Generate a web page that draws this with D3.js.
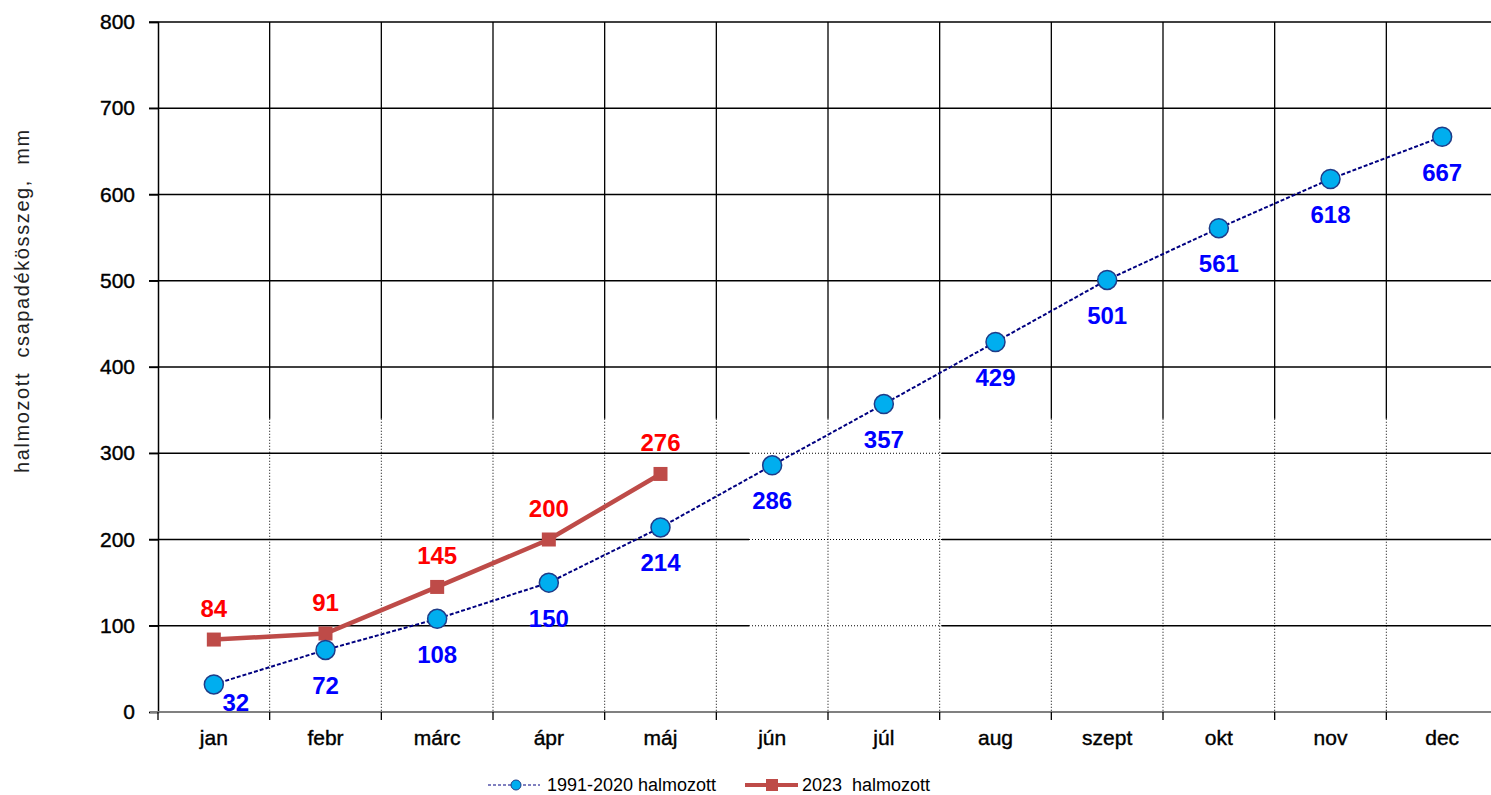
<!DOCTYPE html>
<html>
<head>
<meta charset="utf-8">
<script src="https://cdn.jsdelivr.net/npm/d3@7"></script>
<style>
  html, body { margin: 0; padding: 0; background: #fff; overflow: hidden; }
  text { font-family: "Liberation Sans", Arial, sans-serif; }
</style>
</head>
<body>
<svg id="chart" width="1491" height="795"></svg>
<script>
const months = ['jan', 'febr', 'márc', 'ápr', 'máj', 'jún', 'júl', 'aug', 'szept', 'okt', 'nov', 'dec']
const normalValues = [32, 72, 108, 150, 214, 286, 357, 429, 501, 561, 618, 667]
const values2023 = [84, 91, 145, 200, 276]
const yTicks = [0, 100, 200, 300, 400, 500, 600, 700, 800]
const seriesNames = ['1991-2020 halmozott', '2023  halmozott']

const svg = d3.select('#chart')

const x = d3.scaleBand()
    .domain(months)
    .range([158, 1498])
    .padding(0)

const y = d3.scaleLinear()
    .domain([0, 800])
    .range([712, 22])

const cx = m => x(m) + x.bandwidth() / 2

// grid: vertical lines, solid above, dotted in lower part
const splitY = y(340)
const grid = svg.append('g')
months.forEach((m, i) => {
    if (i === 0) return
    grid.append('line')
        .attr('x1', x(m)).attr('x2', x(m))
        .attr('y1', y(800)).attr('y2', splitY)
        .attr('stroke', '#000').attr('stroke-width', 1.3)
    grid.append('line')
        .attr('x1', x(m)).attr('x2', x(m))
        .attr('y1', splitY).attr('y2', y(0))
        .attr('stroke', '#000').attr('stroke-width', 1).attr('stroke-dasharray', '1,2')
})

// horizontal gridlines
const dotStart = 749, dotEnd = 942
yTicks.filter(t => t > 0).forEach(t => {
    if (t <= 300) {
        grid.append('line')
            .attr('x1', 149).attr('x2', dotStart)
            .attr('y1', y(t)).attr('y2', y(t))
            .attr('stroke', '#000').attr('stroke-width', 1.3)
        grid.append('line')
            .attr('x1', dotStart).attr('x2', dotEnd)
            .attr('y1', y(t)).attr('y2', y(t))
            .attr('stroke', '#000').attr('stroke-width', 1).attr('stroke-dasharray', '1,2')
        grid.append('line')
            .attr('x1', dotEnd).attr('x2', 1491)
            .attr('y1', y(t)).attr('y2', y(t))
            .attr('stroke', '#000').attr('stroke-width', 1.3)
    } else {
        grid.append('line')
            .attr('x1', 149).attr('x2', 1491)
            .attr('y1', y(t)).attr('y2', y(t))
            .attr('stroke', '#000').attr('stroke-width', 1.3)
    }
})

// y axis
const yAxis = svg.append('g')
    .attr('transform', `translate(${x.range()[0]},0)`)
    .call(d3.axisLeft(y).tickValues(yTicks).tickSize(9).tickPadding(14))
yAxis.select('.domain').attr('stroke', '#000').attr('stroke-width', 1.5)
yAxis.selectAll('.tick line').attr('stroke', '#000').attr('stroke-width', 1.3)
yAxis.selectAll('.tick text')
    .attr('font-size', 21)
    .attr('fill', '#000')
    .attr('stroke', '#000')
    .attr('stroke-width', 0.4)
    .attr('font-family', '"Liberation Sans", Arial, sans-serif')

// x axis
const xAxis = svg.append('g')
    .attr('transform', `translate(0,${y(0)})`)
    .call(d3.axisBottom(x).tickSize(0).tickPadding(18))
xAxis.select('.domain').remove()
xAxis.selectAll('.tick text')
    .attr('font-size', 21)
    .attr('fill', '#000')
    .attr('stroke', '#000')
    .attr('stroke-width', 0.4)
    .attr('font-family', '"Liberation Sans", Arial, sans-serif')
svg.append('line')
    .attr('x1', x.range()[0] - 8).attr('x2', 1491)
    .attr('y1', y(0)).attr('y2', y(0))
    .attr('stroke', '#808080').attr('stroke-width', 2.2)
months.forEach(m => {
    svg.append('line')
        .attr('x1', x(m)).attr('x2', x(m))
        .attr('y1', y(0)).attr('y2', y(0) + 8)
        .attr('stroke', '#000').attr('stroke-width', 1.3)
})

// y title
svg.append('text')
    .attr('transform', `translate(29,${y(477)}) rotate(-90)`)
    .attr('text-anchor', 'middle')
    .attr('font-size', 20)
    .attr('letter-spacing', 1.6)
    .attr('fill', '#222')
    .style('white-space', 'pre')
    .text('halmozott  csapadékösszeg,  mm')

// normal series
const lineNormal = d3.line()
    .x((d, i) => cx(months[i]))
    .y(d => y(d))

svg.append('path')
    .datum(normalValues)
    .attr('d', lineNormal)
    .attr('fill', 'none')
    .attr('stroke', '#000080')
    .attr('stroke-width', 2)
    .attr('stroke-dasharray', '4,2')

// 2023 series
svg.append('path')
    .datum(values2023)
    .attr('d', lineNormal)
    .attr('fill', 'none')
    .attr('stroke', '#BE4B48')
    .attr('stroke-width', 4.5)

svg.selectAll('.sq')
    .data(values2023)
    .enter()
    .append('rect')
    .attr('class', 'sq')
    .attr('x', (d, i) => cx(months[i]) - 7)
    .attr('y', d => y(d) - 7)
    .attr('width', 14)
    .attr('height', 14)
    .attr('fill', '#BE4B48')

svg.selectAll('.dot')
    .data(normalValues)
    .enter()
    .append('circle')
    .attr('class', 'dot')
    .attr('cx', (d, i) => cx(months[i]))
    .attr('cy', d => y(d))
    .attr('r', 9.5)
    .attr('fill', '#00AEEF')
    .attr('stroke', '#1F3C88')
    .attr('stroke-width', 1.5)

// labels
svg.selectAll('.lblN')
    .data(normalValues)
    .enter()
    .append('text')
    .attr('class', 'lblN')
    .attr('x', (d, i) => cx(months[i]) + (i === 0 ? 22 : 0))
    .attr('y', (d, i) => y(d) + (i === 0 ? 27 : 44))
    .attr('text-anchor', 'middle')
    .attr('font-size', 24)
    .attr('font-weight', 'bold')
    .attr('fill', '#0000FF')
    .text(d => d)

svg.selectAll('.lbl23')
    .data(values2023)
    .enter()
    .append('text')
    .attr('class', 'lbl23')
    .attr('x', (d, i) => cx(months[i]))
    .attr('y', d => y(d) - 23)
    .attr('text-anchor', 'middle')
    .attr('font-size', 24)
    .attr('font-weight', 'bold')
    .attr('fill', '#FF0000')
    .text(d => d)

// legend
const legY = 785
const leg = svg.append('g')
leg.append('line')
    .attr('x1', 488).attr('x2', 540).attr('y1', legY).attr('y2', legY)
    .attr('stroke', '#000080').attr('stroke-width', 1).attr('stroke-dasharray', '3,2')
leg.append('circle')
    .attr('cx', 516).attr('cy', legY).attr('r', 5)
    .attr('fill', '#00AEEF').attr('stroke', '#1F3C88').attr('stroke-width', 1)
leg.append('text')
    .attr('x', 547).attr('y', legY + 6)
    .attr('font-size', 18).attr('fill', '#000')
    .style('white-space', 'pre')
    .text(seriesNames[0])
leg.append('line')
    .attr('x1', 745).attr('x2', 798).attr('y1', legY).attr('y2', legY)
    .attr('stroke', '#BE4B48').attr('stroke-width', 4)
leg.append('rect')
    .attr('x', 766).attr('y', legY - 6).attr('width', 12).attr('height', 12)
    .attr('fill', '#BE4B48')
leg.append('text')
    .attr('x', 802).attr('y', legY + 6)
    .attr('font-size', 18).attr('fill', '#000')
    .style('white-space', 'pre')
    .text(seriesNames[1])
</script>
</body>
</html>
